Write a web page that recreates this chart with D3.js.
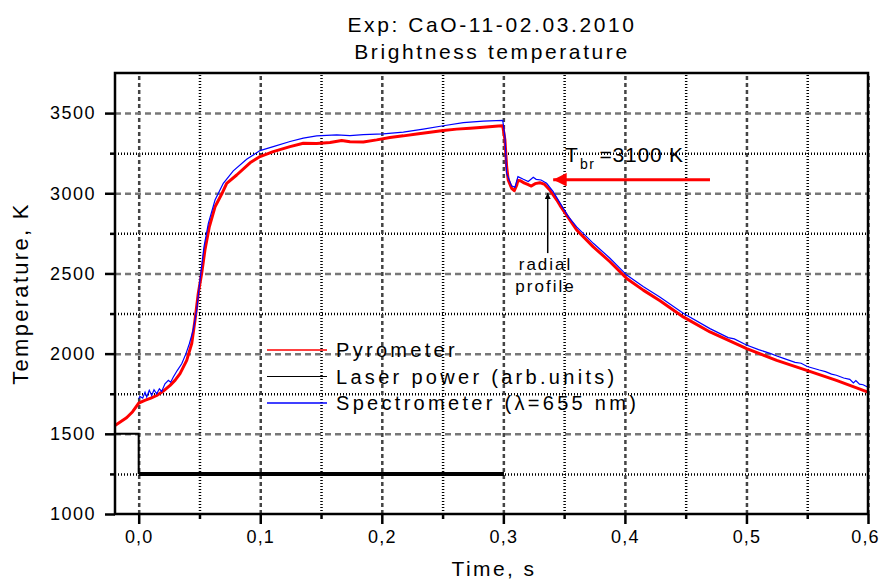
<!DOCTYPE html>
<html>
<head>
<meta charset="utf-8">
<script src="https://cdn.jsdelivr.net/npm/d3@7"></script>
<style>
  body { margin: 0; background: #fff; }
  text { font-family: "Liberation Sans", Arial, sans-serif; fill: #000; }
</style>
</head>
<body>
<svg id="chart" width="881" height="581"></svg>
<script>
// ----- DATA -----
var titleLines = ["Exp: CaO-11-02.03.2010", "Brightness temperature"];
var xMajor = [0, 0.1, 0.2, 0.3, 0.4, 0.5, 0.6];
var xMinor = [0.05, 0.15, 0.25, 0.35, 0.45, 0.55];
var yMajor = [1000, 1500, 2000, 2500, 3000, 3500];
var yMinor = [1250, 1750, 2250, 2750, 3250];
var legendLabels = ["Pyrometer", "Laser power (arb.units)", "Spectrometer (\u03bb=655 nm)"];

// pyrometer, time (s) / temperature (K)
var pyrometer = [
  [-0.0195, 1552], [-0.01, 1600], [-0.005, 1638], [0, 1691], [0.005, 1708], [0.01, 1722],
  [0.0148, 1739], [0.02, 1765], [0.0258, 1802], [0.03, 1835], [0.034, 1875], [0.0395, 1958],
  [0.0436, 2062], [0.0463, 2208], [0.049, 2375], [0.0518, 2500], [0.0545, 2646], [0.0581, 2791],
  [0.0628, 2916], [0.0683, 2995], [0.0724, 3062], [0.0806, 3114], [0.0916, 3190], [0.0998, 3229],
  [0.1107, 3260], [0.1245, 3291], [0.1354, 3312], [0.1464, 3310], [0.1574, 3316], [0.167, 3329],
  [0.1738, 3321], [0.1848, 3320], [0.1958, 3333], [0.2067, 3348], [0.2177, 3358], [0.2287, 3370],
  [0.2397, 3381], [0.2506, 3391], [0.2616, 3400], [0.2726, 3406], [0.2835, 3412], [0.2959, 3420],
  [0.2995, 3421], [0.3013, 3333], [0.3027, 3167], [0.304, 3083], [0.3068, 3031], [0.309, 3016],
  [0.311, 3050], [0.312, 3080], [0.314, 3078], [0.317, 3065], [0.32, 3055], [0.323, 3045],
  [0.3261, 3060], [0.33, 3066], [0.334, 3055], [0.338, 3022], [0.344, 2958], [0.3466, 2925],
  [0.3603, 2771], [0.374, 2666], [0.3877, 2573], [0.4015, 2469], [0.4151, 2396], [0.4289, 2330],
  [0.448, 2229], [0.47, 2135], [0.5002, 2031], [0.5249, 1958], [0.5496, 1896], [0.574, 1833],
  [0.6, 1760]
];

// spectrometer (lambda = 655 nm)
var spectrometer = [
  [0, 1719], [0.001, 1733], [0.0033, 1722], [0.0052, 1760], [0.0066, 1730], [0.0087, 1771],
  [0.0107, 1739], [0.0126, 1775], [0.0148, 1750], [0.017, 1781], [0.0189, 1764], [0.0216, 1812],
  [0.0244, 1833], [0.0263, 1822], [0.0285, 1854], [0.0318, 1896], [0.0354, 1937], [0.0389, 2000],
  [0.0416, 2060], [0.0449, 2150], [0.0477, 2270], [0.0504, 2458], [0.0537, 2666], [0.0573, 2812],
  [0.0628, 2958], [0.0696, 3062], [0.0778, 3140], [0.0888, 3212], [0.0998, 3266], [0.1107, 3291],
  [0.1245, 3323], [0.1354, 3344], [0.1464, 3358], [0.1629, 3364], [0.1738, 3360], [0.1848, 3366],
  [0.2012, 3371], [0.2177, 3381], [0.2341, 3400], [0.2506, 3421], [0.2671, 3441], [0.2835, 3450],
  [0.2995, 3454], [0.3013, 3354], [0.3027, 3125], [0.3068, 3046], [0.3095, 3037], [0.312, 3104],
  [0.3165, 3087], [0.3205, 3073], [0.3246, 3100], [0.327, 3087], [0.331, 3083], [0.3356, 3062],
  [0.341, 3010], [0.3466, 2940], [0.3535, 2854], [0.3603, 2790], [0.374, 2688], [0.3877, 2595],
  [0.4015, 2490], [0.415, 2418], [0.429, 2352], [0.448, 2252], [0.47, 2156], [0.485, 2100],
  [0.49, 2092], [0.5, 2054], [0.51, 2025], [0.52, 2000], [0.525, 1985], [0.53, 1972], [0.54, 1946],
  [0.545, 1940], [0.55, 1920], [0.56, 1898], [0.565, 1888], [0.57, 1872], [0.574, 1865],
  [0.58, 1848], [0.585, 1840], [0.588, 1818], [0.59, 1832], [0.593, 1810], [0.596, 1806], [0.6, 1790]
];

// laser power, drawn on the temperature axis (arb. units)
var laserOff = [[-0.0195, 1500], [0, 1500], [0, 1250]];
var laserOn = [[0, 1250], [0.3005, 1250]];

// annotations
var tbrLevel = 3085;
var tbrArrowT = [0.47, 0.341];
var profileT = 0.3365;
var profileArrowT = [2627, 3001];

// ----- CHART -----
var svg = d3.select("#chart");
var pLeft = 115, pRight = 868, pTop = 73, pBottom = 514;

var x = d3.scaleLinear().domain([-0.0195, 0.6]).range([pLeft, pRight]);
var y = d3.scaleLinear().domain([1000, 3750]).range([pBottom, pTop]);

// grid
function grid(axis, vals, dash, color, tr) {
  var g = svg.append("g").attr("transform", tr).call(axis.tickValues(vals).tickFormat(""));
  g.select(".domain").remove();
  g.selectAll("line").attr("stroke", color).attr("stroke-dasharray", dash).attr("stroke-width", 1);
}
grid(d3.axisBottom(x).tickSize(-(pBottom - pTop)), xMinor, "1,2", "#000", "translate(0," + pBottom + ")");
grid(d3.axisLeft(y).tickSize(-(pRight - pLeft)), yMinor, "1,2", "#000", "translate(" + pLeft + ",0)");
grid(d3.axisBottom(x).tickSize(-(pBottom - pTop)), xMajor, "4,3", "#444", "translate(0," + pBottom + ")");
grid(d3.axisLeft(y).tickSize(-(pRight - pLeft)), yMajor.slice(1), "6,4", "#777", "translate(" + pLeft + ",0)");

// curves
var line = d3.line().x(function(d) { return x(d[0]); }).y(function(d) { return y(d[1]); });

svg.append("path").datum(laserOff).attr("d", line)
  .attr("fill", "none").attr("stroke", "#000").attr("stroke-width", 2);
svg.append("path").datum(laserOn).attr("d", line)
  .attr("fill", "none").attr("stroke", "#000").attr("stroke-width", 4);
svg.append("path").datum(pyrometer).attr("d", line)
  .attr("fill", "none").attr("stroke", "#ff0000").attr("stroke-width", 3).attr("stroke-linejoin", "round");
svg.append("path").datum(spectrometer).attr("d", line)
  .attr("fill", "none").attr("stroke", "#0000ff").attr("stroke-width", 1.2);

// frame
svg.append("rect").attr("x", pLeft).attr("y", pTop)
  .attr("width", pRight - pLeft).attr("height", pBottom - pTop)
  .attr("fill", "none").attr("stroke", "#000").attr("stroke-width", 2.5);

// axes
var xAxis = svg.append("g").attr("transform", "translate(0," + pBottom + ")")
  .call(d3.axisBottom(x).tickValues(xMajor).tickSize(10).tickPadding(6)
    .tickFormat(function(d) { return d3.format(".1f")(d).replace(".", ","); }));
svg.append("g").attr("transform", "translate(0," + pBottom + ")")
  .call(d3.axisBottom(x).tickValues(xMinor).tickSize(5).tickFormat(""));
var yAxis = svg.append("g").attr("transform", "translate(" + pLeft + ",0)")
  .call(d3.axisLeft(y).tickValues(yMajor).tickSize(10).tickPadding(9).tickFormat(d3.format("d")));
svg.append("g").attr("transform", "translate(" + pLeft + ",0)")
  .call(d3.axisLeft(y).tickValues(yMinor).tickSize(5).tickFormat(""));
svg.selectAll(".domain").remove();
svg.selectAll(".tick line").attr("stroke-width", 2.5);
xAxis.selectAll("text").style("font-size", "18px").style("letter-spacing", "1.2px")
  .style("font-family", "'Liberation Sans', Arial, sans-serif")
  .attr("dx", function(d) { return d == 0.6 ? -3 : 0; });
yAxis.selectAll("text").style("font-size", "18px").style("letter-spacing", "1.5px")
  .style("font-family", "'Liberation Sans', Arial, sans-serif");

// titles
svg.selectAll(".title").data(titleLines).enter().append("text")
  .attr("x", 492).attr("y", function(d, i) { return 32 + i * 27; })
  .attr("text-anchor", "middle").style("font-size", "21px").style("letter-spacing", "2.6px")
  .text(function(d) { return d; });

svg.append("text").attr("x", 494).attr("y", 576).attr("text-anchor", "middle")
  .style("font-size", "21px").style("letter-spacing", "2.4px").text("Time, s");

svg.append("text").attr("transform", "translate(28," + ((pTop + pBottom) / 2) + ") rotate(-90)")
  .attr("text-anchor", "middle").style("font-size", "22px").style("letter-spacing", "2.3px")
  .text("Temperature, K");

// legend
var legendColors = ["#ff0000", "#000", "#0000ff"];
var lg = svg.selectAll(".leg").data(legendLabels).enter().append("g")
  .attr("transform", function(d, i) { return "translate(267," + (350 + i * 26.5) + ")"; });
lg.append("line").attr("x1", 0).attr("x2", 60)
  .attr("stroke", function(d, i) { return legendColors[i]; })
  .attr("stroke-width", function(d, i) { return i == 1 ? 1 : 1.5; });
lg.append("text").attr("x", 69).attr("y", 7)
  .style("font-size", "20px").style("letter-spacing", "3.3px")
  .text(function(d) { return d; });

// T_br annotation
var defs = svg.append("defs");
defs.append("marker").attr("id", "redhead").attr("viewBox", "0 0 10 10")
  .attr("refX", 10).attr("refY", 5).attr("markerWidth", 6).attr("markerHeight", 4.5)
  .attr("markerUnits", "strokeWidth").attr("orient", "auto")
  .append("path").attr("d", "M0,0 L10,5 L0,10 Z").attr("fill", "#ff0000");
defs.append("marker").attr("id", "blackhead").attr("viewBox", "0 0 10 10")
  .attr("refX", 10).attr("refY", 5).attr("markerWidth", 8).attr("markerHeight", 4)
  .attr("markerUnits", "strokeWidth").attr("orient", "auto")
  .append("path").attr("d", "M0,0 L10,5 L0,10 Z").attr("fill", "#000");

svg.append("line").attr("x1", x(tbrArrowT[0])).attr("x2", x(tbrArrowT[1]))
  .attr("y1", y(tbrLevel)).attr("y2", y(tbrLevel))
  .attr("stroke", "#ff0000").attr("stroke-width", 3).attr("marker-end", "url(#redhead)");

var tbr = svg.append("text").attr("x", x(0.3508)).attr("y", y(3195)).style("font-size", "21px");
tbr.append("tspan").text("T");
tbr.append("tspan").attr("dx", 2).attr("dy", 7).style("font-size", "14px").style("letter-spacing", "1.5px").text("br");
tbr.append("tspan").attr("dx", 4).attr("dy", -7).style("letter-spacing", "0.8px").text("=3100 K");

// radial profile annotation
svg.append("line").attr("x1", x(profileT)).attr("x2", x(profileT))
  .attr("y1", y(profileArrowT[0])).attr("y2", y(profileArrowT[1]))
  .attr("stroke", "#000").attr("stroke-width", 1.5).attr("marker-end", "url(#blackhead)");
svg.selectAll(".rp").data(["radial", "profile"]).enter().append("text")
  .attr("x", x(0.3347)).attr("y", function(d, i) { return y(2521) + i * 22; })
  .attr("text-anchor", "middle").style("font-size", "17px").style("letter-spacing", "2px")
  .text(function(d) { return d; });
</script>
</body>
</html>
